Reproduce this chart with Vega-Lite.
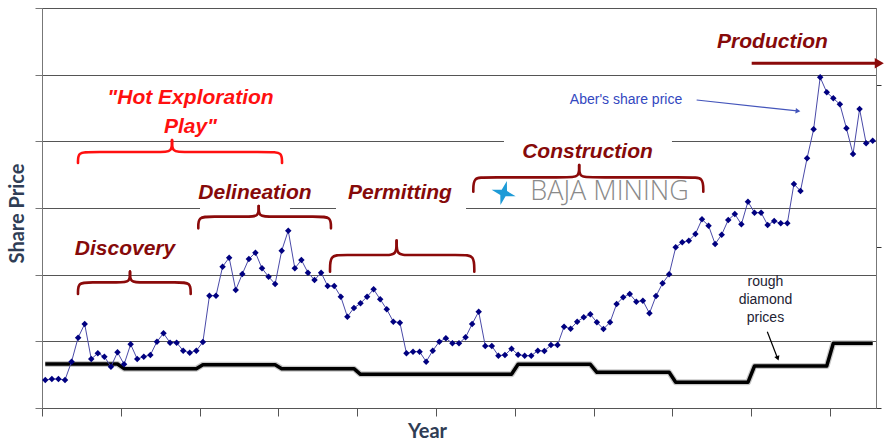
{
  "$schema": "https://vega.github.io/schema/vega-lite/v6.json",
  "width": 834,
  "height": 400,
  "autosize": {"type": "none"},
  "padding": {"left": 42, "top": 8, "right": 8, "bottom": 32},
  "background": "white",
  "config": {
    "view": {"stroke": "#777", "strokeWidth": 1},
    "axis": {"domainColor": "#777", "tickColor": "#777", "labels": false}
  },
  "datasets": {
    "series": [
      {"m":0.5,"share":0.42,"diamond":0.66},{"m":1.5,"share":0.435,"diamond":0.66},{"m":2.5,"share":0.435,"diamond":0.66},{"m":3.5,"share":0.42,"diamond":0.66},
      {"m":4.5,"share":0.695,"diamond":0.66},{"m":5.5,"share":1.055,"diamond":0.66},{"m":6.5,"share":1.26,"diamond":0.66},{"m":7.5,"share":0.735,"diamond":0.66},
      {"m":8.5,"share":0.82,"diamond":0.66},{"m":9.5,"share":0.77,"diamond":0.66},{"m":10.5,"share":0.62,"diamond":0.66},{"m":11.5,"share":0.835,"diamond":0.66},
      {"m":12.5,"share":0.655,"diamond":0.59},{"m":13.5,"share":0.955,"diamond":0.59},{"m":14.5,"share":0.735,"diamond":0.59},{"m":15.5,"share":0.77,"diamond":0.59},
      {"m":16.5,"share":0.795,"diamond":0.59},{"m":17.5,"share":0.995,"diamond":0.59},{"m":18.5,"share":1.12,"diamond":0.59},{"m":19.5,"share":0.98,"diamond":0.59},
      {"m":20.5,"share":0.98,"diamond":0.59},{"m":21.5,"share":0.86,"diamond":0.59},{"m":22.5,"share":0.83,"diamond":0.59},{"m":23.5,"share":0.86,"diamond":0.59},
      {"m":24.5,"share":0.99,"diamond":0.65},{"m":25.5,"share":1.685,"diamond":0.65},{"m":26.5,"share":1.685,"diamond":0.65},{"m":27.5,"share":2.12,"diamond":0.65},
      {"m":28.5,"share":2.255,"diamond":0.65},{"m":29.5,"share":1.77,"diamond":0.65},{"m":30.5,"share":2.01,"diamond":0.65},{"m":31.5,"share":2.235,"diamond":0.65},
      {"m":32.5,"share":2.33,"diamond":0.65},{"m":33.5,"share":2.095,"diamond":0.65},{"m":34.5,"share":1.97,"diamond":0.65},{"m":35.5,"share":1.86,"diamond":0.65},
      {"m":36.5,"share":2.36,"diamond":0.59},{"m":37.5,"share":2.66,"diamond":0.59},{"m":38.5,"share":2.095,"diamond":0.59},{"m":39.5,"share":2.22,"diamond":0.59},
      {"m":40.5,"share":2.03,"diamond":0.59},{"m":41.5,"share":1.92,"diamond":0.59},{"m":42.5,"share":2.03,"diamond":0.59},{"m":43.5,"share":1.83,"diamond":0.59},
      {"m":44.5,"share":1.83,"diamond":0.59},{"m":45.5,"share":1.67,"diamond":0.59},{"m":46.5,"share":1.37,"diamond":0.59},{"m":47.5,"share":1.5,"diamond":0.59},
      {"m":48.5,"share":1.57,"diamond":0.505},{"m":49.5,"share":1.67,"diamond":0.505},{"m":50.5,"share":1.78,"diamond":0.505},{"m":51.5,"share":1.63,"diamond":0.505},
      {"m":52.5,"share":1.48,"diamond":0.505},{"m":53.5,"share":1.295,"diamond":0.505},{"m":54.5,"share":1.28,"diamond":0.505},{"m":55.5,"share":0.82,"diamond":0.505},
      {"m":56.5,"share":0.845,"diamond":0.505},{"m":57.5,"share":0.845,"diamond":0.505},{"m":58.5,"share":0.695,"diamond":0.505},{"m":59.5,"share":0.86,"diamond":0.505},
      {"m":60.5,"share":0.995,"diamond":0.505},{"m":61.5,"share":1.045,"diamond":0.505},{"m":62.5,"share":0.97,"diamond":0.505},{"m":63.5,"share":0.97,"diamond":0.505},
      {"m":64.5,"share":1.06,"diamond":0.505},{"m":65.5,"share":1.26,"diamond":0.505},{"m":66.5,"share":1.445,"diamond":0.505},{"m":67.5,"share":0.93,"diamond":0.505},
      {"m":68.5,"share":0.93,"diamond":0.505},{"m":69.5,"share":0.785,"diamond":0.505},{"m":70.5,"share":0.795,"diamond":0.505},{"m":71.5,"share":0.89,"diamond":0.505},
      {"m":72.5,"share":0.8,"diamond":0.655},{"m":73.5,"share":0.785,"diamond":0.655},{"m":74.5,"share":0.785,"diamond":0.655},{"m":75.5,"share":0.86,"diamond":0.655},
      {"m":76.5,"share":0.855,"diamond":0.655},{"m":77.5,"share":0.945,"diamond":0.655},{"m":78.5,"share":0.945,"diamond":0.655},{"m":79.5,"share":1.22,"diamond":0.655},
      {"m":80.5,"share":1.19,"diamond":0.655},{"m":81.5,"share":1.295,"diamond":0.655},{"m":82.5,"share":1.36,"diamond":0.655},{"m":83.5,"share":1.405,"diamond":0.655},
      {"m":84.5,"share":1.285,"diamond":0.535},{"m":85.5,"share":1.185,"diamond":0.535},{"m":86.5,"share":1.285,"diamond":0.535},{"m":87.5,"share":1.56,"diamond":0.535},
      {"m":88.5,"share":1.66,"diamond":0.535},{"m":89.5,"share":1.71,"diamond":0.535},{"m":90.5,"share":1.595,"diamond":0.535},{"m":91.5,"share":1.61,"diamond":0.535},
      {"m":92.5,"share":1.42,"diamond":0.535},{"m":93.5,"share":1.68,"diamond":0.535},{"m":94.5,"share":1.87,"diamond":0.535},{"m":95.5,"share":2.005,"diamond":0.535},
      {"m":96.5,"share":2.41,"diamond":0.385},{"m":97.5,"share":2.485,"diamond":0.385},{"m":98.5,"share":2.51,"diamond":0.385},{"m":99.5,"share":2.61,"diamond":0.385},
      {"m":100.5,"share":2.83,"diamond":0.385},{"m":101.5,"share":2.735,"diamond":0.385},{"m":102.5,"share":2.46,"diamond":0.385},{"m":103.5,"share":2.6,"diamond":0.385},
      {"m":104.5,"share":2.82,"diamond":0.385},{"m":105.5,"share":2.91,"diamond":0.385},{"m":106.5,"share":2.755,"diamond":0.385},{"m":107.5,"share":3.095,"diamond":0.385},
      {"m":108.5,"share":2.93,"diamond":0.63},{"m":109.5,"share":2.93,"diamond":0.63},{"m":110.5,"share":2.745,"diamond":0.63},{"m":111.5,"share":2.805,"diamond":0.63},
      {"m":112.5,"share":2.77,"diamond":0.63},{"m":113.5,"share":2.77,"diamond":0.63},{"m":114.5,"share":3.36,"diamond":0.63},{"m":115.5,"share":3.255,"diamond":0.63},
      {"m":116.5,"share":3.745,"diamond":0.63},{"m":117.5,"share":4.18,"diamond":0.63},{"m":118.5,"share":4.96,"diamond":0.63},{"m":119.5,"share":4.735,"diamond":0.63},
      {"m":120.5,"share":4.645,"diamond":0.97},{"m":121.5,"share":4.555,"diamond":0.97},{"m":122.5,"share":4.195,"diamond":0.97},{"m":123.5,"share":3.81,"diamond":0.97},
      {"m":124.5,"share":4.485,"diamond":0.97},{"m":125.5,"share":3.97,"diamond":0.97},{"m":126.5,"share":4.01,"diamond":0.97}
    ],
    "braces": [
      {"b":"1L","k":1,"x":5.48,"y":3.675,"kind":"hot"},{"b":"1L","k":2,"x":5.48,"y":3.84,"kind":"hot"},{"b":"1L","k":3,"x":7.28,"y":3.84,"kind":"hot"},{"b":"1L","k":4,"x":18.2,"y":3.84,"kind":"hot"},{"b":"1L","k":5,"x":19.8,"y":3.84,"kind":"hot"},{"b":"1L","k":6,"x":19.8,"y":4.02,"kind":"hot"},
      {"b":"1R","k":1,"x":19.8,"y":4.02,"kind":"hot"},{"b":"1R","k":2,"x":19.8,"y":3.84,"kind":"hot"},{"b":"1R","k":3,"x":21.4,"y":3.84,"kind":"hot"},{"b":"1R","k":4,"x":34.75,"y":3.84,"kind":"hot"},{"b":"1R","k":5,"x":36.55,"y":3.84,"kind":"hot"},{"b":"1R","k":6,"x":36.55,"y":3.675,"kind":"hot"},
      {"b":"2L","k":1,"x":5.48,"y":1.71,"kind":"phase"},{"b":"2L","k":2,"x":5.48,"y":1.885,"kind":"phase"},{"b":"2L","k":3,"x":7.28,"y":1.885,"kind":"phase"},{"b":"2L","k":4,"x":11.8,"y":1.885,"kind":"phase"},{"b":"2L","k":5,"x":13.4,"y":1.885,"kind":"phase"},{"b":"2L","k":6,"x":13.4,"y":2.045,"kind":"phase"},
      {"b":"2R","k":1,"x":13.4,"y":2.045,"kind":"phase"},{"b":"2R","k":2,"x":13.4,"y":1.885,"kind":"phase"},{"b":"2R","k":3,"x":15.0,"y":1.885,"kind":"phase"},{"b":"2R","k":4,"x":20.84,"y":1.885,"kind":"phase"},{"b":"2R","k":5,"x":22.64,"y":1.885,"kind":"phase"},{"b":"2R","k":6,"x":22.64,"y":1.71,"kind":"phase"},
      {"b":"3L","k":1,"x":23.8,"y":2.695,"kind":"phase"},{"b":"3L","k":2,"x":23.8,"y":2.87,"kind":"phase"},{"b":"3L","k":3,"x":25.6,"y":2.87,"kind":"phase"},{"b":"3L","k":4,"x":31.4,"y":2.87,"kind":"phase"},{"b":"3L","k":5,"x":33.0,"y":2.87,"kind":"phase"},{"b":"3L","k":6,"x":33.0,"y":3.03,"kind":"phase"},
      {"b":"3R","k":1,"x":33.0,"y":3.03,"kind":"phase"},{"b":"3R","k":2,"x":33.0,"y":2.87,"kind":"phase"},{"b":"3R","k":3,"x":34.6,"y":2.87,"kind":"phase"},{"b":"3R","k":4,"x":42.2,"y":2.87,"kind":"phase"},{"b":"3R","k":5,"x":44.0,"y":2.87,"kind":"phase"},{"b":"3R","k":6,"x":44.0,"y":2.695,"kind":"phase"},
      {"b":"4L","k":1,"x":43.86,"y":2.045,"kind":"phase"},{"b":"4L","k":2,"x":43.86,"y":2.295,"kind":"phase"},{"b":"4L","k":3,"x":45.66,"y":2.295,"kind":"phase"},{"b":"4L","k":4,"x":52.4,"y":2.295,"kind":"phase"},{"b":"4L","k":5,"x":54.0,"y":2.295,"kind":"phase"},{"b":"4L","k":6,"x":54.0,"y":2.51,"kind":"phase"},
      {"b":"4R","k":1,"x":54.0,"y":2.51,"kind":"phase"},{"b":"4R","k":2,"x":54.0,"y":2.295,"kind":"phase"},{"b":"4R","k":3,"x":55.6,"y":2.295,"kind":"phase"},{"b":"4R","k":4,"x":64.03,"y":2.295,"kind":"phase"},{"b":"4R","k":5,"x":65.83,"y":2.295,"kind":"phase"},{"b":"4R","k":6,"x":65.83,"y":2.045,"kind":"phase"},
      {"b":"5L","k":1,"x":65.68,"y":3.245,"kind":"phase"},{"b":"5L","k":2,"x":65.68,"y":3.46,"kind":"phase"},{"b":"5L","k":3,"x":67.48,"y":3.46,"kind":"phase"},{"b":"5L","k":4,"x":80.2,"y":3.46,"kind":"phase"},{"b":"5L","k":5,"x":81.8,"y":3.46,"kind":"phase"},{"b":"5L","k":6,"x":81.8,"y":3.645,"kind":"phase"},
      {"b":"5R","k":1,"x":81.8,"y":3.645,"kind":"phase"},{"b":"5R","k":2,"x":81.8,"y":3.46,"kind":"phase"},{"b":"5R","k":3,"x":83.4,"y":3.46,"kind":"phase"},{"b":"5R","k":4,"x":98.9,"y":3.46,"kind":"phase"},{"b":"5R","k":5,"x":100.7,"y":3.46,"kind":"phase"},{"b":"5R","k":6,"x":100.7,"y":3.245,"kind":"phase"}
    ],
    "hotText": [
      {"x":22.61,"y":4.645,"t":"\"Hot Exploration"},
      {"x":22.61,"y":4.22,"t":"Play\""}
    ],
    "phaseText": [
      {"x":12.64,"y":2.38,"t":"Discovery"},
      {"x":32.43,"y":3.22,"t":"Delineation"},
      {"x":54.52,"y":3.23,"t":"Permitting"},
      {"x":83.07,"y":3.845,"t":"Construction"},
      {"x":111.24,"y":5.495,"t":"Production"}
    ],
    "aberText": [{"x":88.93,"y":4.62,"t":"Aber's share price"}],
    "roughText": [
      {"x":110.17,"y":1.895,"t":"rough"},
      {"x":110.17,"y":1.62,"t":"diamond"},
      {"x":110.17,"y":1.345,"t":"prices"}
    ],
    "logoText": [{"x":86.42,"y":3.24,"t":"BAJA MINING"}],
    "logoStar": [{"x":70.3,"y":3.225}],
    "masks": [
      {"x":70.35,"x2":95.93,"y":3.93,"y2":4.08},
      {"x":44.77,"x2":64.57,"y":2.95,"y2":3.08},
      {"x":24.06,"x2":37.76,"y":2.96,"y2":3.06}
    ],
    "arrows": [
      {"a":"aber","k":1,"x":99.69,"y":4.62},{"a":"aber","k":2,"x":115.0,"y":4.457},
      {"a":"rough","k":1,"x":110.45,"y":1.145},{"a":"rough","k":2,"x":111.95,"y":0.76},
      {"a":"prod","k":1,"x":108.07,"y":5.17},{"a":"prod","k":2,"x":127.0,"y":5.17}
    ],
    "heads": [
      {"a":"aber","x":115.12,"y":4.455},
      {"a":"rough","x":112.03,"y":0.745},
      {"a":"prod","x":127.5,"y":5.17}
    ]
  },
  "resolve": {"axis": {"x": "independent", "y": "independent"}},
  "layer": [
    {
      "data": {"name": "masks"},
      "mark": {"type": "rect", "color": "white"},
      "encoding": {
        "x": {"field": "x", "type": "quantitative", "scale": {"domain": [0, 127], "nice": false, "zero": false}, "axis": null},
        "x2": {"field": "x2"},
        "y": {"field": "y", "type": "quantitative", "scale": {"domain": [0, 6], "nice": false}, "axis": null},
        "y2": {"field": "y2"}
      }
    },
    {
      "data": {"name": "series"},
      "mark": {"type": "line", "color": "#c8c8c8", "strokeWidth": 6, "strokeJoin": "round"},
      "encoding": {
        "x": {"field": "m", "type": "quantitative", "scale": {"domain": [0, 127], "nice": false, "zero": false}, "axis": null},
        "y": {"field": "diamond", "type": "quantitative", "scale": {"domain": [0, 6], "nice": false}, "axis": null}
      }
    },
    {
      "data": {"name": "series"},
      "mark": {"type": "line", "color": "#000000", "strokeWidth": 3.5, "strokeJoin": "round"},
      "encoding": {
        "x": {"field": "m", "type": "quantitative", "scale": {"domain": [0, 127], "nice": false, "zero": false}, "axis": null},
        "y": {"field": "diamond", "type": "quantitative", "scale": {"domain": [0, 6], "nice": false},
          "axis": {"orient": "right", "values": [0, 2.415, 4.845], "grid": false, "labels": false, "title": null, "tickSize": 5, "domainColor": "#777", "tickColor": "#333"}}
      }
    },
    {
      "data": {"name": "series"},
      "mark": {"type": "line", "color": "#4a4aa8", "strokeWidth": 1},
      "encoding": {
        "x": {"field": "m", "type": "quantitative", "scale": {"domain": [0, 127], "nice": false, "zero": false},
          "axis": {"orient": "bottom", "values": [0, 12, 24, 36, 48, 60, 72, 84, 96, 108, 120], "grid": false, "labels": false, "tickSize": 8, "title": "Year",
            "titleFont": "Lato", "titleFontSize": 20, "titleFontWeight": "bold", "titleColor": "#2f3d55",
            "titleX": 385, "titleY": 29, "titleAlign": "center", "titleBaseline": "alphabetic", "domainColor": "#555", "tickColor": "#555"}},
        "y": {"field": "share", "type": "quantitative", "scale": {"domain": [0, 6], "nice": false},
          "axis": {"orient": "left", "values": [0, 1, 2, 3, 4, 5, 6], "grid": true, "gridColor": "#555", "gridWidth": 1, "labels": false, "tickSize": 7,
            "title": "Share Price", "titleFont": "Lato", "titleFontSize": 20, "titleFontWeight": "bold", "titleColor": "#2f3d55",
            "titleX": -25, "titleY": 205, "titleAlign": "center", "titleBaseline": "middle", "titleAngle": 270}}
      }
    },
    {
      "data": {"name": "series"},
      "mark": {"type": "point", "shape": "diamond", "filled": true, "color": "#000080", "size": 42, "opacity": 1},
      "encoding": {
        "x": {"field": "m", "type": "quantitative", "scale": {"domain": [0, 127], "nice": false, "zero": false}, "axis": null},
        "y": {"field": "share", "type": "quantitative", "scale": {"domain": [0, 6], "nice": false}, "axis": null}
      }
    },
    {
      "data": {"name": "braces"},
      "mark": {"type": "line", "interpolate": "basis", "strokeWidth": 2.6, "strokeCap": "round"},
      "encoding": {
        "x": {"field": "x", "type": "quantitative", "scale": {"domain": [0, 127], "nice": false, "zero": false}, "axis": null},
        "y": {"field": "y", "type": "quantitative", "scale": {"domain": [0, 6], "nice": false}, "axis": null},
        "detail": {"field": "b", "type": "nominal"},
        "order": {"field": "k", "type": "quantitative"},
        "color": {"field": "kind", "type": "nominal", "scale": {"domain": ["hot", "phase"], "range": ["#ff1010", "#8b0a0a"]}, "legend": null}
      }
    },
    {
      "data": {"name": "hotText"},
      "mark": {"type": "text", "font": "Liberation Sans", "fontSize": 21, "fontWeight": "bold", "fontStyle": "italic", "color": "#ff1010", "align": "center", "baseline": "middle"},
      "encoding": {
        "x": {"field": "x", "type": "quantitative", "scale": {"domain": [0, 127], "nice": false, "zero": false}, "axis": null},
        "y": {"field": "y", "type": "quantitative", "scale": {"domain": [0, 6], "nice": false}, "axis": null},
        "text": {"field": "t"}
      }
    },
    {
      "data": {"name": "phaseText"},
      "mark": {"type": "text", "font": "Liberation Sans", "fontSize": 21, "fontWeight": "bold", "fontStyle": "italic", "color": "#860a0a", "align": "center", "baseline": "middle"},
      "encoding": {
        "x": {"field": "x", "type": "quantitative", "scale": {"domain": [0, 127], "nice": false, "zero": false}, "axis": null},
        "y": {"field": "y", "type": "quantitative", "scale": {"domain": [0, 6], "nice": false}, "axis": null},
        "text": {"field": "t"}
      }
    },
    {
      "data": {"name": "logoText"},
      "mark": {"type": "text", "font": "Open Sans", "fontSize": 27, "fontWeight": 300, "color": "#8a8a8a", "align": "center", "baseline": "middle", "letterSpacing": 1},
      "encoding": {
        "x": {"field": "x", "type": "quantitative", "scale": {"domain": [0, 127], "nice": false, "zero": false}, "axis": null},
        "y": {"field": "y", "type": "quantitative", "scale": {"domain": [0, 6], "nice": false}, "axis": null},
        "text": {"field": "t"}
      }
    },
    {
      "data": {"name": "logoStar"},
      "mark": {"type": "point", "shape": "M0,-1L0.22,-0.22L1,0L0.22,0.22L0,1L-0.22,0.22L-1,0L-0.22,-0.22Z", "filled": true, "color": "#1e9bd7", "size": 620, "angle": 15, "opacity": 1},
      "encoding": {
        "x": {"field": "x", "type": "quantitative", "scale": {"domain": [0, 127], "nice": false, "zero": false}, "axis": null},
        "y": {"field": "y", "type": "quantitative", "scale": {"domain": [0, 6], "nice": false}, "axis": null}
      }
    },
    {
      "data": {"name": "aberText"},
      "mark": {"type": "text", "font": "Liberation Sans", "fontSize": 14, "color": "#3347c0", "align": "center", "baseline": "middle"},
      "encoding": {
        "x": {"field": "x", "type": "quantitative", "scale": {"domain": [0, 127], "nice": false, "zero": false}, "axis": null},
        "y": {"field": "y", "type": "quantitative", "scale": {"domain": [0, 6], "nice": false}, "axis": null},
        "text": {"field": "t"}
      }
    },
    {
      "data": {"name": "roughText"},
      "mark": {"type": "text", "font": "Liberation Sans", "fontSize": 14, "color": "#222233", "align": "center", "baseline": "middle"},
      "encoding": {
        "x": {"field": "x", "type": "quantitative", "scale": {"domain": [0, 127], "nice": false, "zero": false}, "axis": null},
        "y": {"field": "y", "type": "quantitative", "scale": {"domain": [0, 6], "nice": false}, "axis": null},
        "text": {"field": "t"}
      }
    },
    {
      "data": {"name": "arrows"},
      "transform": [{"filter": "datum.a === 'aber'"}],
      "mark": {"type": "line", "color": "#4455bb", "strokeWidth": 1.2},
      "encoding": {
        "x": {"field": "x", "type": "quantitative", "scale": {"domain": [0, 127], "nice": false, "zero": false}, "axis": null},
        "y": {"field": "y", "type": "quantitative", "scale": {"domain": [0, 6], "nice": false}, "axis": null},
        "order": {"field": "k", "type": "quantitative"}
      }
    },
    {
      "data": {"name": "arrows"},
      "transform": [{"filter": "datum.a === 'rough'"}],
      "mark": {"type": "line", "color": "#000000", "strokeWidth": 1.2},
      "encoding": {
        "x": {"field": "x", "type": "quantitative", "scale": {"domain": [0, 127], "nice": false, "zero": false}, "axis": null},
        "y": {"field": "y", "type": "quantitative", "scale": {"domain": [0, 6], "nice": false}, "axis": null},
        "order": {"field": "k", "type": "quantitative"}
      }
    },
    {
      "data": {"name": "arrows"},
      "transform": [{"filter": "datum.a === 'prod'"}],
      "mark": {"type": "line", "color": "#8b0a0a", "strokeWidth": 3},
      "encoding": {
        "x": {"field": "x", "type": "quantitative", "scale": {"domain": [0, 127], "nice": false, "zero": false}, "axis": null},
        "y": {"field": "y", "type": "quantitative", "scale": {"domain": [0, 6], "nice": false}, "axis": null},
        "order": {"field": "k", "type": "quantitative"}
      }
    },
    {
      "data": {"name": "heads"},
      "transform": [{"filter": "datum.a === 'aber'"}],
      "mark": {"type": "point", "shape": "triangle-right", "filled": true, "color": "#4455bb", "size": 30, "angle": 6, "opacity": 1},
      "encoding": {
        "x": {"field": "x", "type": "quantitative", "scale": {"domain": [0, 127], "nice": false, "zero": false}, "axis": null},
        "y": {"field": "y", "type": "quantitative", "scale": {"domain": [0, 6], "nice": false}, "axis": null}
      }
    },
    {
      "data": {"name": "heads"},
      "transform": [{"filter": "datum.a === 'rough'"}],
      "mark": {"type": "point", "shape": "triangle-right", "filled": true, "color": "#000000", "size": 30, "angle": 69, "opacity": 1},
      "encoding": {
        "x": {"field": "x", "type": "quantitative", "scale": {"domain": [0, 127], "nice": false, "zero": false}, "axis": null},
        "y": {"field": "y", "type": "quantitative", "scale": {"domain": [0, 6], "nice": false}, "axis": null}
      }
    },
    {
      "data": {"name": "heads"},
      "transform": [{"filter": "datum.a === 'prod'"}],
      "mark": {"type": "point", "shape": "triangle-right", "filled": true, "color": "#8b0a0a", "size": 110, "opacity": 1},
      "encoding": {
        "x": {"field": "x", "type": "quantitative", "scale": {"domain": [0, 127], "nice": false, "zero": false}, "axis": null},
        "y": {"field": "y", "type": "quantitative", "scale": {"domain": [0, 6], "nice": false}, "axis": null}
      }
    }
  ]
}
